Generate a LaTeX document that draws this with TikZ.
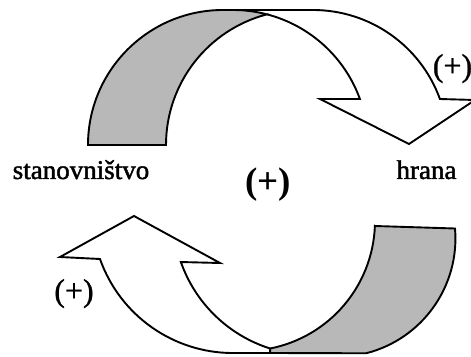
\documentclass[tikz,border=0pt]{standalone}
\usepackage{fontspec}
\setmainfont{Liberation Serif}
\newfontfamily\heavyfont[FakeBold=1.6]{Liberation Serif}
\newfontfamily\semifont[FakeBold=0.8]{Liberation Serif}
\begin{document}
\begin{tikzpicture}[x=1pt,y=1pt, line width=1.9pt, line join=miter,
  band/.style={draw=black, fill=black!28},
  outline/.style={draw=black},
  lbl/.style={inner sep=0pt, anchor=base, font=\heavyfont\fontsize{27}{30}\selectfont},
  sgn/.style={inner sep=0pt, anchor=base, font=\semifont\fontsize{32}{36}\selectfont},
  bsgn/.style={inner sep=0pt, anchor=base, font=\fontsize{37}{40}\selectfont\bfseries}]
\useasboundingbox (0,0) rectangle (471,356);
% upper arrow: grey crescent
\path[band] (88,211) arc[start angle=180,end angle=90,radius=135] -- (233,346)
  arc[start angle=90,end angle=75.41,radius=135]
  arc[start angle=104.59,end angle=180,radius=135] -- cycle;
% upper arrow: white part
\draw[outline] (223,346) -- (313,346) arc[start angle=90,end angle=19.92,radius=135]
  -- (475,256) -- (409,212) -- (320,257) -- (359.9,257)
  arc[start angle=19.92,end angle=75.41,radius=135];
% lower arrow: grey crescent
\path[band] (375,130) -- (455,127.5) arc[start angle=4.84,end angle=-75.8,radius=118.4]
  -- (270.1,3) -- (270.1,7.5) arc[start angle=281.14,end angle=357.8,radius=130] -- cycle;
% lower arrow: white part
\draw[outline] (270.1,7.5) arc[start angle=252.45,end angle=199.35,radius=139]
  -- (220,93) -- (134,140) -- (60,99) -- (100,97)
  arc[start angle=199.46,end angle=270,radius=141] -- (270.1,3);
% labels
\node[lbl] (pop) at (81,177) {stanovništvo};
\node[lbl] (food) at (426.5,177) {hrana};
\node[bsgn] (mid) at (268,162.5) {(+)};
\node[sgn] (plA) at (452.5,279.7) {(+)};
\node[sgn] (plB) at (74,54.7) {(+)};
\end{tikzpicture}
\end{document}
